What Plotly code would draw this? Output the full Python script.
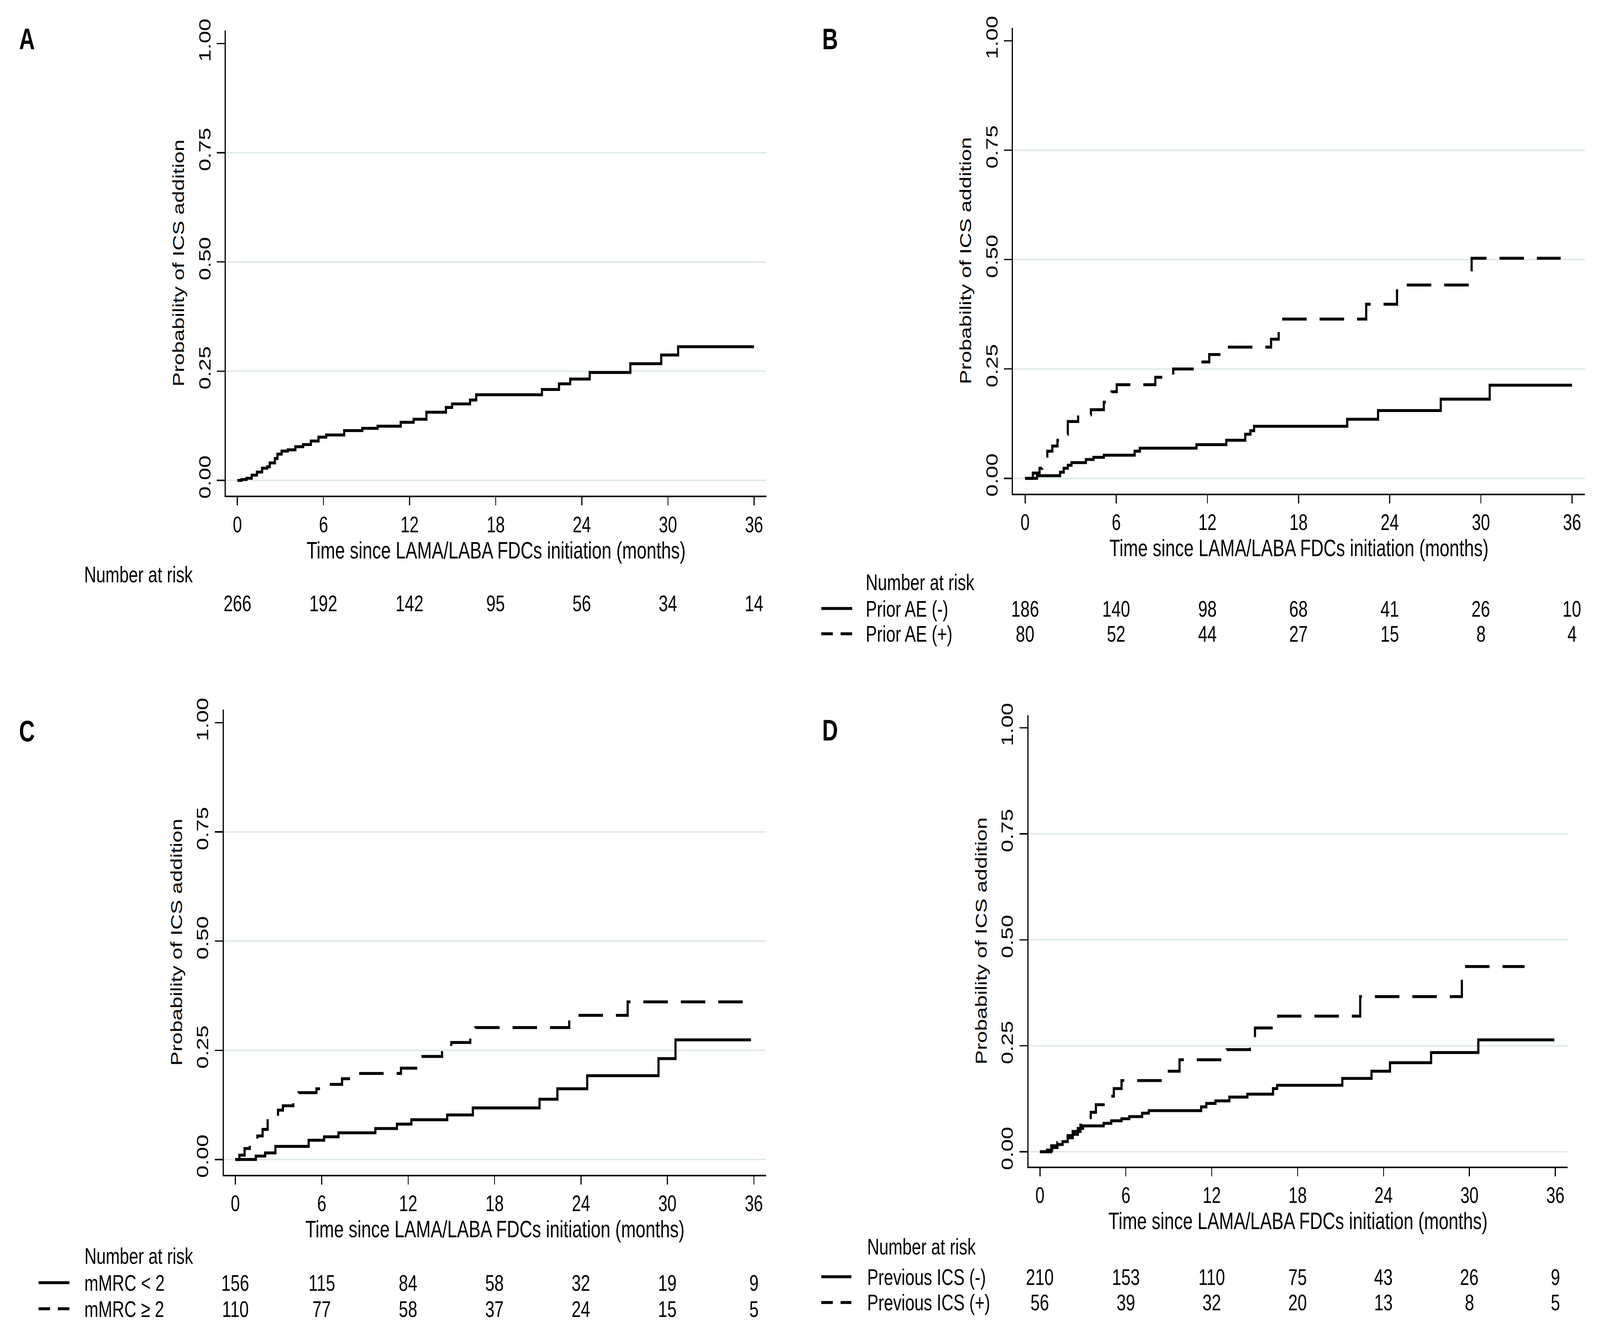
import plotly.graph_objects as go

# ---------------- data ----------------
months = [0, 6, 12, 18, 24, 30, 36]
ytick_vals = [0, 0.25, 0.5, 0.75, 1.0]
ytick_text = ["0.00", "0.25", "0.50", "0.75", "1.00"]
grid_vals = [0, 0.25, 0.5, 0.75]

# Panel A: overall
A_t = [0, 0.29, 0.64, 1.0, 1.36, 1.72, 2.08, 2.25, 2.61, 2.79, 3.08, 3.51, 4.04, 4.58, 5.12, 5.65,
       6.19, 7.44, 8.70, 9.77, 11.38, 12.28, 13.17, 14.53, 14.96, 16.21, 16.64, 21.22, 22.41,
       23.19, 24.55, 27.38, 29.53, 30.71, 36.0]
A_p = [0, 0.002, 0.005, 0.012, 0.019, 0.028, 0.031, 0.040, 0.050, 0.060, 0.067, 0.070, 0.077,
       0.082, 0.090, 0.099, 0.104, 0.114, 0.119, 0.124, 0.133, 0.140, 0.156, 0.167, 0.175, 0.184,
       0.196, 0.208, 0.221, 0.232, 0.247, 0.267, 0.287, 0.306, 0.306]
A_risk = [266, 192, 142, 95, 56, 34, 14]

# Panel B: prior AE
B_neg_t = [0, 0.78, 2.30, 2.54, 2.81, 3.05, 4.0, 4.5, 5.18, 7.21, 7.55, 11.28, 13.24, 14.49,
           14.83, 15.07, 21.2, 23.23, 27.36, 30.58, 36.0]
B_neg_p = [0, 0.006, 0.014, 0.023, 0.030, 0.036, 0.043, 0.048, 0.053, 0.062, 0.069, 0.077, 0.087,
           0.101, 0.109, 0.119, 0.135, 0.155, 0.181, 0.213, 0.213]
B_pos_t = [0, 0.51, 0.95, 1.12, 1.46, 1.79, 2.13, 2.47, 2.81, 3.49, 4.33, 5.18, 5.69, 6.03, 8.57,
           9.75, 11.45, 12.12, 13.14, 16.19, 16.69, 22.45, 24.48, 29.39, 35.25]
B_pos_p = [0, 0.012, 0.023, 0.038, 0.062, 0.074, 0.087, 0.101, 0.130, 0.145, 0.157, 0.174, 0.198,
           0.214, 0.231, 0.250, 0.266, 0.283, 0.300, 0.318, 0.364, 0.398, 0.442, 0.503, 0.503]
B_labels = ["Prior AE (-)", "Prior AE (+)"]
B_risk_neg = [186, 140, 98, 68, 41, 26, 10]
B_risk_pos = [80, 52, 44, 27, 15, 8, 4]

# Panel C: mMRC
C_lo_t = [0, 1.42, 2.07, 2.78, 5.09, 6.16, 7.16, 9.72, 11.22, 12.22, 14.71, 16.49, 21.12, 22.36,
          24.43, 29.38, 30.56, 35.8]
C_lo_p = [0, 0.008, 0.015, 0.030, 0.044, 0.052, 0.061, 0.071, 0.081, 0.091, 0.102, 0.118, 0.138,
          0.162, 0.192, 0.231, 0.274, 0.274]
C_hi_t = [0, 0.28, 0.64, 1.0, 1.53, 1.89, 2.24, 2.6, 2.96, 3.3, 4.02, 4.38, 5.63, 5.98, 7.41, 8.48,
          11.5, 13.0, 14.35, 14.99, 16.31, 16.67, 23.18, 27.24, 35.9]
C_hi_p = [0, 0.010, 0.025, 0.039, 0.054, 0.069, 0.089, 0.098, 0.113, 0.123, 0.130, 0.153, 0.162,
          0.172, 0.185, 0.197, 0.209, 0.236, 0.251, 0.268, 0.285, 0.302, 0.330, 0.361, 0.361]
C_labels = ["mMRC < 2", "mMRC \u2265 2"]
C_risk_lo = [156, 115, 84, 58, 32, 19, 9]
C_risk_hi = [110, 77, 58, 37, 24, 15, 5]

# Panel D: previous ICS
D_neg_t = [0, 0.5, 0.86, 1.22, 1.58, 1.94, 2.29, 2.65, 3.01, 4.45, 4.98, 5.7, 6.24, 7.14, 7.6,
           11.26, 11.62, 12.26, 13.23, 14.49, 16.28, 16.57, 21.12, 23.16, 24.45, 27.32, 30.62, 35.93]
D_neg_p = [0, 0.004, 0.010, 0.017, 0.024, 0.033, 0.041, 0.055, 0.061, 0.067, 0.073, 0.078, 0.083,
           0.091, 0.097, 0.106, 0.114, 0.120, 0.129, 0.136, 0.149, 0.157, 0.173, 0.190, 0.210,
           0.234, 0.264, 0.264]
D_pos_t = [0, 0.79, 1.22, 1.58, 1.94, 2.29, 2.83, 3.01, 3.55, 3.91, 4.45, 5.16, 5.7, 8.57, 9.75,
           13.05, 14.66, 15.02, 16.64, 22.37, 29.47, 33.85]
D_pos_p = [0, 0.014, 0.022, 0.030, 0.038, 0.048, 0.063, 0.073, 0.093, 0.111, 0.131, 0.149, 0.168,
           0.190, 0.217, 0.241, 0.264, 0.292, 0.320, 0.366, 0.437, 0.437]
D_labels = ["Previous ICS (-)", "Previous ICS (+)"]
D_risk_neg = [210, 153, 110, 75, 43, 26, 9]
D_risk_pos = [56, 39, 32, 20, 13, 8, 5]

# ---------------- styling ----------------
W, H = 5554, 3431
FONT = "Liberation Sans, Arial, sans-serif"
TICK_SIZE = 57
TEXT_SIZE = 58
LW = 7.5
DASH = "85px,45px"
GRID_COLOR = "#dce7eb"
XRANGE = [-0.8, 36.85]
YRANGE = [-0.035, 1.03]
XTITLE = "Time since LAMA/LABA FDCs initiation (months)"
YTITLE = "Probability of ICS addition"

panels = [
    dict(letter="A", xd=[0.1412, 0.4789], yd=[0.6301, 0.9773], letter_xy=(0.0168, 0.9709),
         series=[(A_t, A_p, "solid")],
         nar_xy=(0.0522, 0.5713), rows=[(None, A_risk, 0.5497)], sample_x=None),
    dict(letter="B", xd=[0.6331, 0.9906], yd=[0.6316, 0.9793], letter_xy=(0.5189, 0.9709),
         series=[(B_neg_t, B_neg_p, "solid"), (B_pos_t, B_pos_p, DASH)],
         nar_xy=(0.5407, 0.5657),
         rows=[(B_labels[0], B_risk_neg, 0.5459), (B_labels[1], B_risk_pos, 0.5270)],
         sample_x=(0.5133, 0.5326)),
    dict(letter="C", xd=[0.1399, 0.4788], yd=[0.1233, 0.4704], letter_xy=(0.0168, 0.4544),
         series=[(C_lo_t, C_lo_p, "solid"), (C_hi_t, C_hi_p, DASH)],
         nar_xy=(0.0524, 0.0627),
         rows=[(C_labels[0], C_risk_lo, 0.0428), (C_labels[1], C_risk_hi, 0.0233)],
         sample_x=(0.0241, 0.0434)),
    dict(letter="D", xd=[0.6428, 0.9797], yd=[0.1294, 0.4663], letter_xy=(0.5189, 0.4550),
         series=[(D_neg_t, D_neg_p, "solid"), (D_pos_t, D_pos_p, DASH)],
         nar_xy=(0.5416, 0.0697),
         rows=[(D_labels[0], D_risk_neg, 0.0472), (D_labels[1], D_risk_pos, 0.0280)],
         sample_x=(0.5133, 0.5321)),
]

fig = go.Figure()
annotations = []
shapes = []
layout_axes = {}

for i, p in enumerate(panels):
    n = "" if i == 0 else str(i + 1)
    xref, yref = "x" + n, "y" + n
    for t, v, dash in p["series"]:
        fig.add_trace(go.Scatter(x=t, y=v, mode="lines", line_shape="hv",
                                 line=dict(color="black", width=LW, dash=dash),
                                 xaxis=xref, yaxis=yref, showlegend=False, hoverinfo="skip"))
    layout_axes["xaxis" + n] = dict(
        domain=p["xd"], anchor=yref, range=XRANGE, tickvals=months,
        ticks="outside", ticklen=21, tickwidth=3.5, tickcolor="black",
        showline=True, linewidth=4, linecolor="black", showgrid=False, zeroline=False,
        tickfont=dict(family=FONT, size=TICK_SIZE, color="black"),
        title=dict(text=XTITLE, font=dict(family=FONT, size=61, color="black"), standoff=12),
        automargin=False, fixedrange=True)
    layout_axes["yaxis" + n] = dict(
        domain=p["yd"], anchor=xref, range=YRANGE, tickvals=ytick_vals, ticktext=ytick_text,
        tickangle=-90, ticks="outside", ticklen=27, tickwidth=3.5, tickcolor="black",
        showline=True, linewidth=4, linecolor="black", showgrid=False, zeroline=False,
        tickfont=dict(family=FONT, size=TICK_SIZE, color="black"),
        title=dict(text=YTITLE, font=dict(family=FONT, size=55, color="black"), standoff=22),
        automargin=False, fixedrange=True)
    for g in grid_vals:
        shapes.append(dict(type="line", xref=xref + " domain", yref=yref, x0=0, x1=1, y0=g, y1=g,
                           line=dict(color=GRID_COLOR, width=3.5), layer="below"))
    annotations.append(dict(text="<b>" + p["letter"] + "</b>", xref="paper", yref="paper",
                            x=p["letter_xy"][0], y=p["letter_xy"][1], showarrow=False,
                            xanchor="center", yanchor="middle",
                            font=dict(family="Liberation Sans Narrow, Liberation Sans, Arial",
                                      size=76, color="black")))
    annotations.append(dict(text="Number at risk", xref="paper", yref="paper",
                            x=p["nar_xy"][0], y=p["nar_xy"][1], showarrow=False,
                            xanchor="left", yanchor="middle",
                            font=dict(family=FONT, size=TEXT_SIZE, color="black")))
    for r, (label, counts, ypos) in enumerate(p["rows"]):
        for m, c in zip(months, counts):
            annotations.append(dict(text=str(c), xref=xref, yref="paper", x=m, y=ypos,
                                    showarrow=False, xanchor="center", yanchor="middle",
                                    font=dict(family=FONT, size=TEXT_SIZE, color="black")))
        if label is not None:
            annotations.append(dict(text=label, xref="paper", yref="paper",
                                    x=p["nar_xy"][0], y=ypos, showarrow=False,
                                    xanchor="left", yanchor="middle",
                                    font=dict(family=FONT, size=TEXT_SIZE, color="black")))
            sx0, sx1 = p["sample_x"]
            shapes.append(dict(type="line", xref="paper", yref="paper", x0=sx0, x1=sx1,
                               y0=ypos, y1=ypos,
                               line=dict(color="black", width=LW,
                                         dash="solid" if r == 0 else "40px,27px")))

fig.update_layout(
    width=W, height=H, margin=dict(l=0, r=0, t=0, b=0),
    paper_bgcolor="white", plot_bgcolor="white", template="none",
    showlegend=False, annotations=annotations, shapes=shapes, **layout_axes)

# The browser window may be narrower than 5554 px: stretch the fixed-size
# figure so that it exactly fills the viewport it is given.
fit_js = """
var gd = document.getElementById('{plot_id}');
var wrap = gd.parentElement;
document.documentElement.style.margin = '0';
document.documentElement.style.overflow = 'hidden';
document.body.style.margin = '0';
document.body.style.overflow = 'hidden';
wrap.style.width = '100vw';
wrap.style.height = '100vh';
wrap.style.overflow = 'hidden';
wrap.style.position = 'relative';
var kx = window.innerWidth / %d, ky = window.innerHeight / %d;
gd.style.position = 'absolute';
gd.style.left = '0px';
gd.style.top = '0px';
gd.style.transformOrigin = '0 0';
gd.style.transform = 'scale(' + kx + ',' + ky + ')';
""" % (W, H)

fig.write_html("out.html", post_script=fit_js,
               config={"displayModeBar": False, "staticPlot": True})
